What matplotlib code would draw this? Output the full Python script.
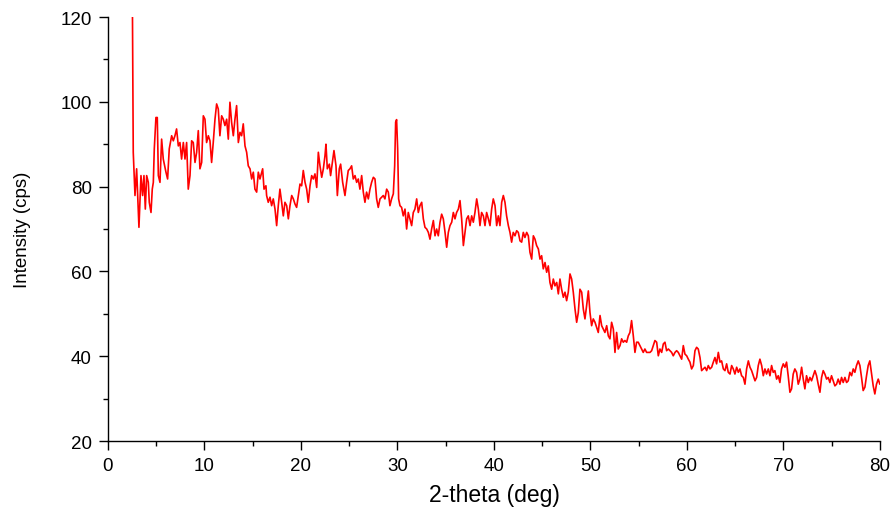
import matplotlib
matplotlib.use('Agg')
import matplotlib.pyplot as plt
from matplotlib.ticker import MultipleLocator

# XRD scan, split into pieces along 2-theta
theta_a = [2.54, 2.62, 2.80, 2.97, 3.21, 3.42, 3.59, 3.73, 3.87, 4.01, 4.18, 4.28, 4.46, 4.59,
           4.70, 4.80, 4.97, 5.11, 5.22, 5.39, 5.56, 5.73, 6.01, 6.18, 6.35, 6.60, 6.77, 6.94,
           7.11, 7.29, 7.46, 7.63, 7.81, 7.98, 8.15, 8.32, 8.50, 8.67, 8.84, 9.02, 9.19, 9.36,
           9.53, 9.71, 9.88, 10.05, 10.22, 10.40, 10.57, 10.74, 10.91, 11.09, 11.26, 11.43,
           11.60, 11.78, 11.95, 12.12, 12.30, 12.47, 12.64, 12.81, 12.99, 13.16, 13.33, 13.51,
           13.68, 13.85, 14.02, 14.20, 14.37, 14.54, 14.72, 14.89, 15.06, 15.23, 15.41, 15.58]
counts_a = [120.0, 88.1, 77.9, 84.2, 70.4, 82.6, 77.9, 82.6, 74.7, 82.6, 81.0, 76.3, 73.9, 79.4,
            81.0, 88.9, 96.3, 96.3, 82.6, 81.0, 91.2, 86.5, 83.4, 81.8, 88.9, 92.0, 90.8, 92.0,
            93.6, 89.6, 90.4, 86.5, 90.4, 86.5, 90.4, 79.4, 82.6, 90.8, 90.4, 85.7, 88.1, 93.2,
            84.2, 85.7, 96.7, 95.9, 90.4, 92.0, 90.8, 85.7, 90.4, 95.9, 99.5, 98.3,
            92.0, 96.7, 95.9, 94.4, 95.9, 91.2, 99.9, 95.2, 92.0, 95.9, 99.1, 90.4,
            92.8, 92.0, 94.8, 89.6, 88.1, 84.9, 84.2, 81.8, 83.4, 79.4, 78.7, 83.4]

theta_b = [15.75, 16.03, 16.17, 16.37, 16.44, 16.61, 16.79, 16.96, 17.13, 17.31, 17.48, 17.65,
           17.82, 18.00, 18.17, 18.34, 18.52, 18.69, 18.86, 19.04, 19.21, 19.38, 19.55, 19.73,
           19.90, 20.07, 20.24, 20.42, 20.59, 20.76, 20.94, 21.11, 21.28, 21.45, 21.63, 21.80,
           21.97, 22.15, 22.32, 22.49, 22.59, 22.73, 22.94, 23.07, 23.28, 23.42, 23.63, 23.77,
           23.97, 24.11, 24.32, 24.56, 24.73, 24.90, 25.08, 25.25, 25.42, 25.60, 25.77, 25.94,
           26.11, 26.29, 26.46, 26.63, 26.80, 26.98, 27.15, 27.32, 27.50, 27.67, 27.84, 28.01,
           28.19, 28.36, 28.53, 28.70, 28.88, 29.05]
counts_b = [81.8, 84.2, 79.4, 80.2, 77.9, 76.3, 77.5, 75.5, 77.1, 74.7, 70.8, 75.5,
            79.4, 76.3, 73.1, 76.3, 75.5, 72.4, 75.5, 77.9, 77.1, 75.9, 75.1, 77.9,
            80.6, 80.2, 83.8, 81.0, 79.4, 76.3, 80.2, 82.6, 81.8, 83.0, 79.8, 88.1,
            84.9, 82.2, 84.2, 87.3, 90.0, 84.2, 85.3, 82.6, 86.1, 88.5, 84.9, 77.9,
            84.2, 85.3, 81.0, 77.9, 81.0, 83.8, 84.2, 84.9, 81.8, 82.6, 81.0, 81.8,
            79.4, 82.6, 78.7, 76.3, 78.7, 77.1, 79.4, 81.0, 82.2, 81.8, 77.1, 75.1,
            77.1, 77.5, 77.9, 77.1, 79.4, 78.7]

theta_c = [29.22, 29.39, 29.57, 29.71, 29.81, 29.91, 30.02, 30.12, 30.26, 30.43, 30.60, 30.78,
           30.95, 31.12, 31.29, 31.47, 31.64, 31.81, 31.99, 32.16, 32.33, 32.51, 32.68, 32.85,
           33.03, 33.20, 33.37, 33.54, 33.72, 33.89, 34.06, 34.23, 34.41, 34.58, 34.75, 34.93,
           35.10, 35.27, 35.44, 35.62, 35.79, 35.96, 36.13, 36.31, 36.48, 36.65, 36.83, 37.00,
           37.17, 37.34, 37.52, 37.69, 37.86, 38.03, 38.21, 38.38, 38.55, 38.72, 38.90, 39.07,
           39.24, 39.42, 39.59, 39.76, 39.93, 40.11, 40.28, 40.45, 40.62, 40.80, 40.97, 41.14,
           41.31, 41.49, 41.66, 41.83, 42.00, 42.18, 42.35, 42.52]
counts_c = [75.5, 77.1, 78.3, 84.9, 95.2, 95.8, 88.9, 77.1, 75.5, 75.1, 73.1, 74.7,
            70.0, 73.9, 72.4, 70.8, 73.9, 74.7, 77.1, 73.9, 75.5, 76.3, 72.4, 70.4,
            70.0, 69.2, 67.6, 70.0, 72.0, 68.4, 70.0, 68.4, 71.6, 73.5, 72.4, 69.2,
            65.7, 69.2, 70.8, 71.6, 73.9, 72.4, 73.9, 74.7, 76.7, 72.4, 66.1, 69.2,
            72.4, 73.1, 70.8, 73.1, 71.6, 73.9, 77.1, 74.7, 70.8, 73.9, 73.1, 70.8,
            73.9, 72.4, 70.8, 74.7, 77.1, 75.5, 70.8, 73.1, 70.8, 76.3, 77.9, 76.3,
            73.1, 70.8, 69.2, 66.9, 69.2, 68.4, 69.6, 69.2]

theta_d = [42.70, 42.87, 43.04, 43.21, 43.39, 43.56, 43.73, 43.91, 44.08, 44.25, 44.42, 44.60,
           44.77, 44.94, 45.11, 45.29, 45.46, 45.63, 45.80, 45.98, 46.15, 46.32, 46.50, 46.67,
           46.84, 47.01, 47.19, 47.36, 47.53, 47.70, 47.88, 48.05, 48.22, 48.40, 48.57, 48.74,
           48.91, 49.09, 49.26, 49.43, 49.60, 49.78, 49.95, 50.12, 50.29, 50.47, 50.64, 50.81,
           50.99, 51.16, 51.33, 51.50, 51.68, 51.85, 52.02, 52.19, 52.37, 52.54, 52.71, 52.88,
           53.06, 53.23, 53.40, 53.57, 53.75, 53.92, 54.09, 54.26, 54.44, 54.61, 54.78, 54.95,
           55.13, 55.30, 55.47, 55.64, 55.82, 55.99]
counts_d = [67.2, 66.9, 69.2, 68.0, 69.2, 68.4, 64.5, 62.9, 68.4, 67.6, 66.1, 65.3,
            62.9, 63.7, 60.6, 62.1, 59.8, 61.3, 57.4, 55.8, 58.2, 56.6, 57.4, 54.7,
            58.2, 55.8, 53.9, 55.1, 53.1, 55.1, 59.4, 58.2, 55.1, 51.1, 48.0, 50.3,
            55.8, 55.1, 51.1, 48.8, 51.9, 55.4, 50.3, 47.2, 48.8, 48.0, 46.8, 45.6,
            49.6, 47.2, 46.4, 45.6, 47.2, 44.8, 44.1, 48.0, 46.4, 40.9, 45.6, 41.7,
            42.5, 44.1, 43.3, 43.7, 43.3, 44.8, 45.6, 48.4, 44.8, 40.9, 43.3, 43.3,
            42.5, 41.7, 40.9, 41.7, 40.9, 40.9]

theta_e = [56.17, 56.34, 56.51, 56.68, 56.86, 57.03, 57.20, 57.38, 57.55, 57.72, 57.89, 58.07,
           58.24, 58.41, 58.58, 58.76, 58.93, 59.10, 59.27, 59.45, 59.62, 59.79, 59.97, 60.14,
           60.31, 60.48, 60.66, 60.83, 61.00, 61.17, 61.35, 61.52, 61.69, 61.87, 62.04, 62.21,
           62.38, 62.56, 62.73, 62.90, 63.07, 63.25, 63.42, 63.59, 63.77, 63.94, 64.11, 64.28,
           64.46, 64.63, 64.80, 64.97, 65.15, 65.32, 65.49, 65.66, 65.84, 66.01, 66.18, 66.36,
           66.53, 66.70, 66.87, 67.05, 67.22, 67.39, 67.56, 67.74, 67.91, 68.08, 68.25, 68.43]
counts_e = [40.9, 41.3, 42.5, 43.7, 43.3, 40.1, 41.7, 40.9, 42.9, 43.3, 41.3, 41.7,
            41.3, 40.9, 40.1, 40.9, 41.3, 40.9, 40.1, 39.3, 42.5, 40.5, 40.1, 39.3,
            38.6, 37.0, 37.8, 41.3, 42.1, 41.7, 39.7, 36.6, 37.0, 37.4, 36.6, 37.8,
            37.0, 37.4, 38.6, 39.7, 38.2, 40.9, 38.6, 38.9, 37.0, 36.6, 38.2, 36.2,
            35.8, 37.8, 37.0, 35.8, 37.4, 36.2, 37.0, 35.4, 35.0, 33.4, 37.0, 38.9,
            37.4, 36.6, 35.4, 34.2, 35.0, 37.8, 39.3, 37.8, 35.4, 37.0, 35.8, 37.0]

theta_f = [68.60, 68.77, 68.94, 69.11, 69.29, 69.46, 69.63, 69.80, 69.98, 70.15, 70.32, 70.49,
           70.67, 70.84, 71.01, 71.18, 71.36, 71.53, 71.70, 71.88, 72.05, 72.22, 72.39, 72.57,
           72.74, 72.91, 73.08, 73.26, 73.43, 73.60, 73.78, 73.95, 74.12, 74.29, 74.47, 74.64,
           74.81, 74.98, 75.16, 75.33, 75.50, 75.67, 75.85, 76.02, 76.19, 76.37, 76.54, 76.71,
           76.88, 77.06, 77.23, 77.40, 77.57, 77.75, 77.92, 78.09, 78.26, 78.44, 78.61, 78.78,
           78.95, 79.13, 79.30, 79.47, 79.64, 79.82, 79.99, 80.16]
counts_f = [35.4, 37.8, 36.2, 36.6, 34.6, 35.4, 33.8, 37.0, 38.2, 37.4, 38.6, 35.4,
            31.5, 32.3, 35.8, 37.0, 36.2, 33.4, 34.6, 37.4, 34.6, 32.3, 35.4, 33.8,
            35.0, 34.2, 35.4, 36.6, 35.4, 33.4, 31.5, 35.0, 36.6, 35.8, 34.6, 35.0,
            33.8, 35.4, 34.2, 33.0, 33.4, 34.6, 33.4, 35.0, 33.8, 35.0, 33.8, 34.2,
            36.2, 35.4, 37.0, 36.2, 37.8, 38.9, 37.8, 35.0, 31.9, 32.7, 35.4, 37.8,
            38.9, 35.8, 33.0, 31.1, 33.4, 34.6, 33.4, 34.2]

two_theta = theta_a + theta_b + theta_c + theta_d + theta_e + theta_f
intensity = counts_a + counts_b + counts_c + counts_d + counts_e + counts_f
assert len(two_theta) == len(intensity)

plt.rcParams['font.family'] = ['Liberation Sans', 'DejaVu Sans']

fig = plt.figure(figsize=(8.96, 5.10), dpi=100)
ax = fig.add_axes([0.1205, 0.1333, 0.8616, 0.8314])

ax.plot(two_theta, intensity, color='#ff0000', linewidth=1.2)

ax.set_xlim(0, 80)
ax.set_ylim(20, 120)
ax.xaxis.set_major_locator(MultipleLocator(10))
ax.xaxis.set_minor_locator(MultipleLocator(5))
ax.yaxis.set_major_locator(MultipleLocator(20))
ax.yaxis.set_minor_locator(MultipleLocator(10))

ax.spines['top'].set_visible(False)
ax.spines['right'].set_visible(False)
for s in ('left', 'bottom'):
    ax.spines[s].set_linewidth(1.0)

ax.tick_params(which='major', direction='out', length=6.5, width=1.0, labelsize=13.5, pad=5)
ax.tick_params(which='minor', direction='out', length=3.5, width=1.0)

ax.set_xlabel('2-theta (deg)', fontsize=16.5)
ax.set_ylabel('Intensity (cps)', fontsize=13.5)
ax.xaxis.set_label_coords(0.5, -0.1)
ax.yaxis.set_label_coords(-0.1, 0.5)

fig.savefig('out.png', dpi=100)
